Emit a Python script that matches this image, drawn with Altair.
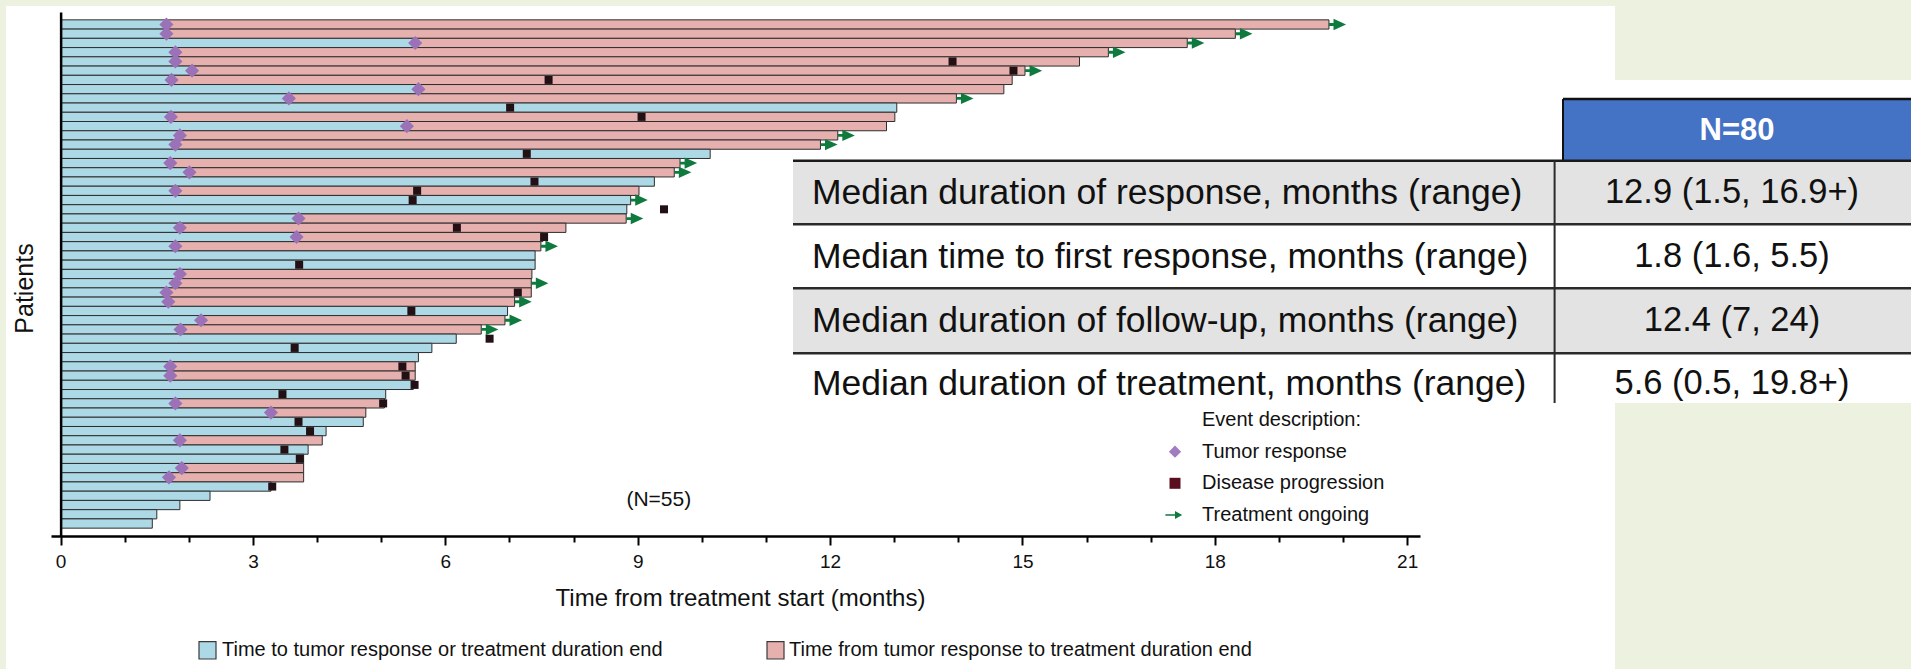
import altair as alt
import pandas as pd

# ---------------- values ----------------
patient_ids = [f"P{i:02d}" for i in range(1, 56)]

response_month = [1.65, 1.65, 5.53, 1.79, 1.79, 2.05, 1.73, 5.58, 3.56, None,
                  1.72, 5.40, 1.86, 1.79, None, 1.71, 2.01, None, 1.79, None,
                  None, 3.71, 1.86, 3.68, 1.79, None, None, 1.86, 1.79, 1.65,
                  1.68, None, 2.19, 1.87, None, None, None, 1.71, 1.71, None,
                  None, 1.79, 3.28, None, None, 1.86, None, None, 1.89, 1.69,
                  None, None, None, None, None]

progression_month = [None, None, None, None, 13.91, 14.86, 7.61, None, None, 7.01,
                     9.06, None, None, None, 7.27, None, None, 7.39, 5.56, 5.49,
                     9.41, None, 6.18, 7.54, None, None, 3.72, None, None, 7.13,
                     None, 5.47, None, None, 6.69, 3.65, None, 5.33, 5.38, 5.52,
                     3.46, 5.03, None, 3.71, 3.89, None, 3.49, 3.73, None, None,
                     3.30, None, None, None, None]

treatment_end_month = [19.78, 18.32, 17.57, 16.34, 15.89, 15.04, 14.84, 14.71, 13.97, 13.04,
                       13.01, 12.88, 12.12, 11.85, 10.13, 9.66, 9.57, 9.26, 9.02, 8.89,
                       8.83, 8.82, 7.88, 7.52, 7.49, 7.40, 7.40, 7.35, 7.34, 7.34,
                       7.08, 6.97, 6.93, 6.56, 6.17, 5.79, 5.58, 5.53, 5.53, 5.50,
                       5.07, 5.05, 4.76, 4.72, 4.14, 4.08, 3.86, 3.79, 3.79, 3.79,
                       3.28, 2.33, 1.86, 1.50, 1.43]

ongoing_flag = [1, 1, 1, 1, 0, 1, 0, 0, 1, 0,
                0, 0, 1, 1, 0, 1, 1, 0, 0, 1,
                0, 1, 0, 0, 1, 0, 0, 0, 1, 0,
                1, 0, 1, 1, 0, 0, 0, 0, 0, 0,
                0, 0, 0, 0, 0, 0, 0, 0, 0, 0,
                0, 0, 0, 0, 0]

segment_names = ["Time to tumor response or treatment duration end",
                 "Time from tumor response to treatment duration end"]
event_title = "Event description:"
event_names = ["Tumor response", "Disease progression", "Treatment ongoing"]
n_label = "(N=55)"
x_tick_values = list(range(0, 22))
x_title = "Time from treatment start (months)"
y_title = "Patients"

table_header = "N=80"
table_labels = ["Median duration of response, months (range)",
                "Median time to first response, months (range)",
                "Median duration of follow-up, months (range)",
                "Median duration of treatment, months (range)"]
table_values = ["12.9 (1.5, 16.9+)", "1.8 (1.6, 5.5)", "12.4 (7, 24)", "5.6 (0.5, 19.8+)"]

# ---------------- layout / style ----------------
FONT = "Liberation Sans"
W, H = 1369, 524
PAD_L, PAD_T = 51, 12
PAGE_W, PAGE_H = 1911, 669
X_DOMAIN = [-0.15, 21.2]
PX_PER_MONTH = W / (X_DOMAIN[1] - X_DOMAIN[0])
ZERO_OFFSET = -X_DOMAIN[0] * PX_PER_MONTH

BLUE = "#ADD8E6"
PINK = "#E6B0AE"
PURPLE = "#9B72B8"
DARK = "#221015"
MAROON = "#5B0E1E"
GREEN = "#0E7A3E"
BG_GREEN = "#EDF1E0"

ARROW_PATH = "M0,-0.25L0.8,-0.25L0.8,-1L3,0L0.8,1L0.8,0.25L0,0.25Z"
LEG_ARROW_PATH = "M-2.4,-0.2L0,-0.2L0,-1L1.8,0L0,1L0,0.2L-2.4,0.2Z"


def rx(page_x):
    return page_x - PAD_L


def ry(page_y):
    return page_y - PAD_T


# ---------------- tables built from the arrays ----------------
seg_rows = []
for pid, r, e in zip(patient_ids, response_month, treatment_end_month):
    if r is None:
        seg_rows.append({"pid": pid, "start": 0.0, "stop": e, "seg": segment_names[0]})
    else:
        seg_rows.append({"pid": pid, "start": 0.0, "stop": r, "seg": segment_names[0]})
        seg_rows.append({"pid": pid, "start": r, "stop": e, "seg": segment_names[1]})
seg_df = pd.DataFrame(seg_rows)

resp_df = pd.DataFrame([{"pid": p, "t": r} for p, r in zip(patient_ids, response_month) if r is not None])
prog_df = pd.DataFrame([{"pid": p, "t": g} for p, g in zip(patient_ids, progression_month) if g is not None])
ong_df = pd.DataFrame([{"pid": p, "t": e} for p, e, o in zip(patient_ids, treatment_end_month, ongoing_flag) if o])

y_enc = alt.Y("pid:N", sort=patient_ids,
              scale=alt.Scale(paddingInner=0, paddingOuter=0.85),
              axis=alt.Axis(title=y_title, labels=False, ticks=False, grid=False,
                            domain=True, domainColor="#000000", domainWidth=2.5,
                            offset=-ZERO_OFFSET, zindex=1,
                            titleFont=FONT, titleFontSize=25, titleFontWeight="normal",
                            titleColor="#111111", titleAngle=270,
                            titleX=24 - (PAD_L + ZERO_OFFSET), titleY=ry(288),
                            titleAlign="center", titleBaseline="middle"))
y_plain = alt.Y("pid:N", sort=patient_ids)

x_axis = alt.Axis(values=x_tick_values, grid=False, zindex=1, format="d",
                  labelExpr="datum.value % 3 === 0 ? datum.label : ''",
                  labelFont=FONT, labelFontSize=19, labelColor="#111111",
                  labelPadding=7, labelFlush=False,
                  tickColor="#000000", tickWidth=2,
                  tickSize={"condition": {"test": "datum.value % 3 === 0", "value": 9}, "value": 6},
                  domainColor="#000000", domainWidth=2.5,
                  title=x_title, titleFont=FONT, titleFontSize=24, titleFontWeight="normal",
                  titleColor="#111111", titleX=rx(740), titleY=598 - (PAD_T + H),
                  titleAlign="center", titleBaseline="middle")

x_scale = alt.Scale(domain=X_DOMAIN, nice=False, zero=False)

bars = alt.Chart(seg_df).mark_bar(stroke="#2e2e2e", strokeWidth=1).encode(
    x=alt.X("start:Q", scale=x_scale, axis=x_axis),
    x2="stop:Q",
    y=y_enc,
    color=alt.Color("seg:N", scale=alt.Scale(domain=segment_names, range=[BLUE, PINK]), legend=None),
)

squares = alt.Chart(prog_df).mark_point(shape="square", filled=True, size=64, color=DARK, opacity=1).encode(
    x="t:Q", y=y_plain)
diamonds = alt.Chart(resp_df).mark_point(shape="diamond", filled=True, size=200, color=PURPLE, opacity=1).encode(
    x="t:Q", y=y_plain)
arrows = alt.Chart(ong_df).mark_point(shape=ARROW_PATH, filled=True, size=130, color=GREEN, opacity=1).encode(
    x="t:Q", y=y_plain)


# ---------------- decoration helpers (pixel positions) ----------------
def rect_layer(x0, x1, y0, y1, fill, stroke=None, sw=0):
    df = pd.DataFrame({"a": [rx(x0)], "b": [rx(x1)], "c": [ry(y0)], "d": [ry(y1)]})
    kw = {"fill": fill}
    if stroke:
        kw.update(stroke=stroke, strokeWidth=sw)
    return alt.Chart(df).mark_rect(**kw).encode(
        x=alt.X("a:Q", scale=None, axis=None), x2="b:Q",
        y=alt.Y("c:Q", scale=None, axis=None), y2="d:Q")


def line_layer(x0, x1, y0, y1, color, width):
    df = pd.DataFrame({"a": [rx(x0)], "b": [rx(x1)], "c": [ry(y0)], "d": [ry(y1)]})
    return alt.Chart(df).mark_rule(color=color, strokeWidth=width).encode(
        x=alt.X("a:Q", scale=None, axis=None), x2="b:Q",
        y=alt.Y("c:Q", scale=None, axis=None), y2="d:Q")


def text_layer(texts, xs, ys, size, align="left", color="#111111", weight="normal"):
    df = pd.DataFrame({"txt": texts, "a": [rx(v) for v in xs], "c": [ry(v) for v in ys]})
    return alt.Chart(df).mark_text(align=align, baseline="middle", font=FONT, fontSize=size,
                                   color=color, fontWeight=weight).encode(
        x=alt.X("a:Q", scale=None, axis=None),
        y=alt.Y("c:Q", scale=None, axis=None),
        text="txt:N")


def symbol_layer(x, y, shape, size, color):
    df = pd.DataFrame({"a": [rx(x)], "c": [ry(y)]})
    return alt.Chart(df).mark_point(shape=shape, filled=True, size=size, color=color, opacity=1).encode(
        x=alt.X("a:Q", scale=None, axis=None),
        y=alt.Y("c:Q", scale=None, axis=None))


layers = []
# green slide edges (page is white)
layers.append(rect_layer(0, PAGE_W, 0, 6, BG_GREEN))
layers.append(rect_layer(0, 6, 0, PAGE_H, BG_GREEN))
layers.append(rect_layer(1615, PAGE_W, 0, 80, BG_GREEN))

# summary table
row_tops = [160.7, 224.3, 288.3, 353.3]
row_bots = [224.3, 288.3, 353.3, 403.0]
row_fill = ["#E3E3E3", "#FFFFFF", "#E3E3E3", "#FFFFFF"]
row_mid = [192.5, 256.5, 321.0, 384.0]
for t, b, f in zip(row_tops, row_bots, row_fill):
    layers.append(rect_layer(793, PAGE_W, t, b, f))
layers.append(rect_layer(1563, PAGE_W, 99, 160.7, "#4472C4"))
layers.append(line_layer(1563, PAGE_W, 99, 99, "#111111", 2.5))
layers.append(line_layer(1563, 1563, 99, 160.7, "#111111", 2))
layers.append(line_layer(793, PAGE_W, 160.7, 160.7, "#1a1a1a", 2.5))
for t in row_tops[1:]:
    layers.append(line_layer(793, PAGE_W, t, t, "#2a2a2a", 2.5))
layers.append(line_layer(1554.6, 1554.6, 160.7, 403, "#2a2a2a", 2))
layers.append(text_layer(table_labels, [812] * 4, row_mid, 35.5))
layers.append(text_layer(table_values, [1732] * 4, row_mid, 34.5, align="center"))
layers.append(text_layer([table_header], [1737], [130.5], 31, align="center", color="#FFFFFF", weight="bold"))
# bottom edge of the pasted table cuts the last row
layers.append(rect_layer(793, 1615, 403, 411, "#FFFFFF"))
layers.append(rect_layer(1615, PAGE_W, 403, PAGE_H, BG_GREEN))

# data layers
layers += [bars, squares, diamonds, arrows]

# annotations and legends
layers.append(text_layer([n_label], [658.8], [500], 21, align="center"))
layers.append(text_layer([event_title] + event_names, [1202] * 4, [420, 451.7, 483.3, 515], 20))
layers.append(symbol_layer(1175, 451.7, "diamond", 150, "#A07CC0"))
layers.append(symbol_layer(1175, 483.3, "square", 121, MAROON))
layers.append(symbol_layer(1175, 515, LEG_ARROW_PATH, 64, GREEN))

layers.append(rect_layer(199, 216, 641.7, 659, BLUE, stroke="#3a3a3a", sw=1.2))
layers.append(rect_layer(767, 784, 641.7, 659, PINK, stroke="#3a3a3a", sw=1.2))
layers.append(text_layer(segment_names, [222, 789], [650, 650], 20))

chart = alt.layer(*layers).properties(
    width=W, height=H,
    autosize=alt.AutoSizeParams(type="none"),
    padding={"left": PAD_L, "top": PAD_T, "right": PAGE_W - PAD_L - W, "bottom": PAGE_H - PAD_T - H},
    background="#FFFFFF",
).configure_view(stroke=None)

chart.save("out.html", embed_options={"renderer": "svg", "actions": False})
